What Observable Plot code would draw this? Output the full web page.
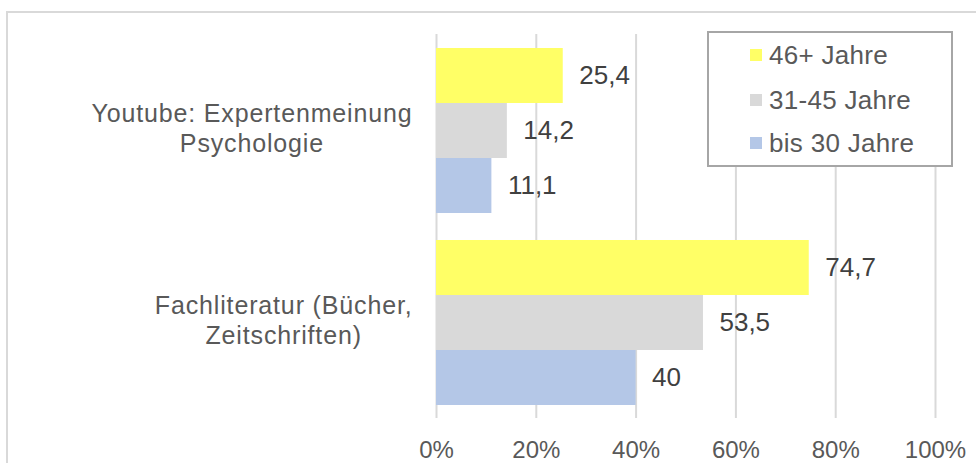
<!DOCTYPE html>
<html>
<head>
<meta charset="utf-8">
<script src="https://cdn.jsdelivr.net/npm/d3@7"></script>
<script src="https://cdn.jsdelivr.net/npm/@observablehq/plot@0.6"></script>
<style>
  html, body { margin: 0; padding: 0; background: #fff; }
  body { width: 976px; height: 463px; position: relative; overflow: hidden; font-family: "Liberation Sans", Arial, sans-serif; }
  #frame { position: absolute; left: 6px; top: 11px; width: 1200px; height: 600px; border: 2px solid #d9d9d9; box-sizing: border-box; }
  #chart { position: absolute; left: 0; top: 0; }
  #chart .catlabel text { letter-spacing: 0.85px; }
  #legend { position: absolute; left: 707px; top: 31px; width: 246px; height: 136px; box-sizing: border-box; border: 2px solid #a6a6a6; background: #fff; }
  .item { position: absolute; left: 41px; height: 30px; display: flex; align-items: center; font-size: 26px; letter-spacing: 0.3px; color: #595959; white-space: nowrap; }
  .sw { width: 12px; height: 12px; margin-right: 7px; flex: none; }
</style>
</head>
<body>
<div id="frame"></div>
<div id="chart"></div>
<div id="legend"></div>
<script>
const categories = ["Youtube: Expertenmeinung\nPsychologie", "Fachliteratur (Bücher,\nZeitschriften)"];
const series = ["46+ Jahre", "31-45 Jahre", "bis 30 Jahre"];
const youtubeValues = [25.4, 14.2, 11.1];
const fachliteraturValues = [74.7, 53.5, 40];
const seriesColors = ["#ffff66", "#d9d9d9", "#b4c7e7"];
const xTicks = [0, 20, 40, 60, 80, 100];

const valuesByCategory = [youtubeValues, fachliteraturValues];
const rows = [];
categories.forEach((c, i) => series.forEach((s, j) => rows.push({category: c, series: s, value: valuesByCategory[i][j]})));

const fontFamily = "'Liberation Sans', Arial, sans-serif";
const catFont = 25;
const catSpacing = 0.85;
const ctx = document.createElement("canvas").getContext("2d");
ctx.font = `${catFont}px ${fontFamily}`;
const blockWidth = c => Math.max(...c.split("\n").map(l => ctx.measureText(l).width + l.length * catSpacing));
const labelGap = 24;

const fmt = v => String(v).replace(".", ",");

const plot = Plot.plot({
  width: 976,
  height: 463,
  marginLeft: 436,
  marginRight: 41,
  marginTop: 33,
  marginBottom: 45,
  style: {fontFamily, background: "transparent", overflow: "visible"},
  x: {domain: [0, 100], axis: null},
  y: {domain: series, paddingInner: 0, paddingOuter: 0.228, axis: null},
  fy: {domain: categories, padding: 0, axis: null},
  color: {domain: series, range: seriesColors},
  marks: [
    Plot.gridX(xTicks, {stroke: "#d9d9d9", strokeOpacity: 1, strokeWidth: 2}),
    Plot.barX(rows, {x: "value", y: "series", fy: "category", fill: "series", inset: 0}),
    Plot.text(rows, {x: "value", y: "series", fy: "category", text: d => fmt(d.value), dx: 16, textAnchor: "start", fontSize: 26, fill: "#404040"}),
    ...categories.map(c => Plot.text([c], {fy: d => d, text: d => d, frameAnchor: "left", textAnchor: "middle", dx: -labelGap - blockWidth(c) / 2, dy: -3, lineHeight: 1.2, fontSize: catFont, fill: "#595959", className: "catlabel"})),
    Plot.axisX(xTicks, {tickSize: 0, tickPadding: 22, tickFormat: d => d + "%", fontSize: 24, fill: "#595959", label: null})
  ]
});
document.getElementById("chart").appendChild(plot);

const legend = document.getElementById("legend");
const rowTops = [7, 52, 95];
series.forEach((s, i) => {
  const item = document.createElement("div");
  item.className = "item";
  item.style.top = rowTops[i] + "px";
  const sw = document.createElement("span");
  sw.className = "sw";
  sw.style.background = seriesColors[i];
  item.appendChild(sw);
  item.appendChild(document.createTextNode(s));
  legend.appendChild(item);
});
</script>
</body>
</html>
